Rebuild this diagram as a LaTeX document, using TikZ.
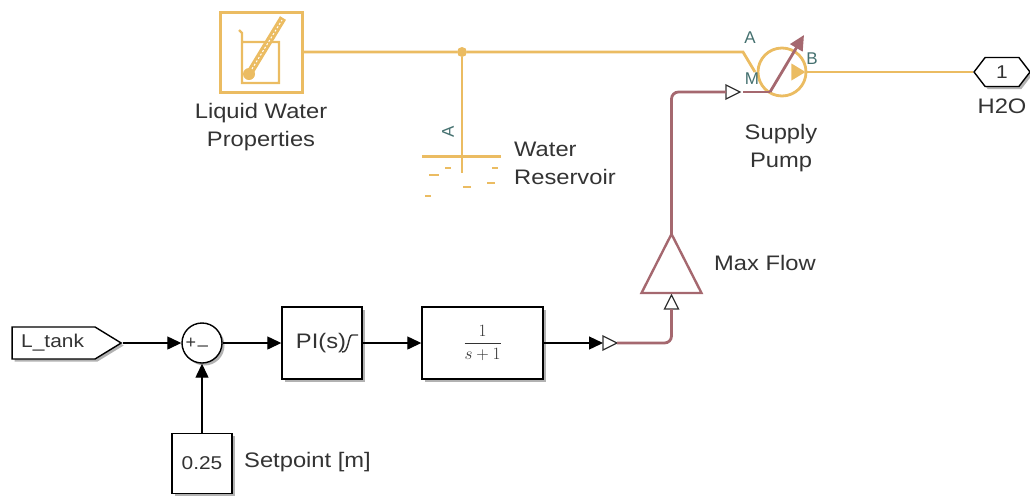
\documentclass[tikz,border=0pt]{standalone}
\usepackage{fontspec}
\setmainfont{Liberation Sans}
\newfontfamily\widefont[FakeStretch=1.13]{Liberation Sans}
\usetikzlibrary{positioning,arrows.meta,calc,shapes.geometric,shapes.symbols,shadows}
\definecolor{watercol}{HTML}{EBBC62}
\definecolor{signalcol}{HTML}{A5686F}
\definecolor{portcol}{HTML}{44706F}
\definecolor{textcol}{HTML}{333333}
\tikzset{
  >={Triangle[length=14pt,width=13pt]},
  softshadow/.style={drop shadow={shadow xshift=2.5pt,shadow yshift=-2.5pt,opacity=.3,fill=black}},
  block/.style={draw=black,fill=white,line width=1.4pt,softshadow,inner sep=0pt,font=\widefont\fontsize{18.5}{20}\selectfont,text=textcol},
  lbl/.style={font=\widefont\fontsize{21}{28}\selectfont,text=textcol,inner sep=0pt},
  portlbl/.style={font=\fontsize{17}{18}\selectfont,text=portcol,inner sep=0pt},
  sigline/.style={->,line width=1.3pt,black},
  water/.style={watercol,line width=2.8pt},
  phys/.style={signalcol,line width=2.8pt},
  portmark/.style={isosceles triangle,isosceles triangle stretches,draw=black!80,fill=white,line width=1.3pt,
    minimum width=14pt,minimum height=14pt,inner sep=0pt,outer sep=0pt},
}
\begin{document}
\begin{tikzpicture}[x=1pt,y=-1pt]
  \useasboundingbox (0,0) rectangle (1030,499);
  % physical network
  \node[draw=watercol,line width=3pt,minimum width=82pt,minimum height=80pt,inner sep=0pt] (props) at (261,52) {};
  \node[lbl,align=center] (propslbl) at (261,127.5) {Liquid Water\\Properties};
  \draw[watercol,line width=2.4pt] (239,30) -- (242,33) -- (242,83) -- (279,83) -- (279,42) -- (242,42);
  \draw[watercol,line width=7pt] (249,74) -- (283,18);
  \fill[watercol] (249,74) circle (6);
  \draw[white,line width=1pt,dash pattern=on 2pt off 2pt] (252,69) -- (282,20);
  \node[circle,fill=watercol,inner sep=0pt,minimum size=10pt] (tee) at (462,52) {};
  \coordinate (res) at (462,173);
  \node[draw=none,inner sep=0pt,minimum width=79pt,minimum height=0pt] (surf) at (461.5,156.5) {};
  \draw[water] (surf.west) -- (surf.east);
  \foreach \dx/\dy/\dw in {448/168/6,434/175/10,495/168/6,467/187/8,491/183/8,428/196/6}
    \draw[watercol,line width=2.6pt] (\dx-\dw/2,\dy) -- (\dx+\dw/2,\dy);
  \node[portlbl,rotate=90] (resA) at (448,132) {A};
  \node[lbl,align=left,anchor=west] (reslbl) at (514,163) {Water\\Reservoir};
  \node[circle,draw=watercol,line width=2.8pt,minimum size=48pt,inner sep=0pt] (pump) at (782,72) {};
  \coordinate (pumpA) at (755,72);
  \coordinate (kink) at (743,52);
  \coordinate (pumpM) at (770,92);
  \coordinate (arrowtip) at (804,35);
  \draw[water] (props) -- (tee) -- (kink) -- (pumpA);
  \draw[water] (tee) -- (res);
  \node[isosceles triangle,isosceles triangle stretches,fill=watercol,minimum width=17pt,minimum height=14pt,inner sep=0pt,anchor=apex] (pumpB) at (806,72) {};
  \node[signal,signal to=east and west,signal pointer angle=105,draw=black,fill=white,line width=1.4pt,softshadow,
    minimum width=56pt,minimum height=29pt,inner sep=0pt,font=\widefont\fontsize{18.5}{20}\selectfont,text=textcol] (outp) at (1002,72) {1};
  \draw[water] (pump.east) -- (outp.west);
  \node[lbl,anchor=center] (outlbl) at (1002,106) {H2O};
  \node[portlbl] (lblA) at (750,38) {A};
  \node[portlbl] (lblM) at (752,79) {M};
  \node[portlbl] (lblB) at (812,59) {B};
  \node[lbl,align=center] (pumplbl) at (781,148.5) {Supply\\Pump};
  % control path
  \node[signal,signal to=east,signal pointer angle=63,block,minimum width=109pt,minimum height=32pt,anchor=east] (ltank) at (122.5,343) {};
  \node[inner sep=0pt,anchor=west,font=\widefont\fontsize{18.5}{20}\selectfont,text=textcol] (ltanktxt) at (21,343) {L\_tank};
  \node[circle,block,minimum size=40pt] (sum) at (202,343) {};
  \node[inner sep=0pt,font=\fontsize{18}{18}\selectfont,text=textcol] (plus) at (191,343) {+};
  \node[inner sep=0pt,font=\fontsize{18}{18}\selectfont,text=textcol] (minus) at (203,345) {\_};
  \node[block,minimum size=60pt] (setpt) at (202,463.5) {0.25};
  \node[lbl,anchor=west] (setlbl) at (244,462) {Setpoint [m]};
  \node[block,minimum width=80pt,minimum height=72pt] (pid) at (322,343) {};
  \node[inner sep=0pt,font=\widefont\fontsize{21}{24}\selectfont,text=textcol] (pidtxt) at (321,343) {PI(s)};
  \draw[black!80,line width=1.4pt] (342,352) .. controls (349,353) and (348,335) .. (352,335) -- (358,335);
  \node[block,minimum width=121pt,minimum height=72pt,font=\fontsize{18}{20}\selectfont] (lag) at (482.5,343) {$\displaystyle\frac{1}{s+1}$};
  \node[portmark,anchor=apex] (gainin) at (617,343) {};
  \node[portmark,shape border rotate=90,anchor=apex] (maxin) at (671.5,295) {};
  \node[isosceles triangle,isosceles triangle stretches,shape border rotate=90,draw=signalcol,line width=2.4pt,
    minimum width=60pt,minimum height=59pt,inner sep=0pt,outer sep=0pt,anchor=apex] (gain) at (671.5,234) {};
  \node[lbl,anchor=west] (gainlbl) at (714,263) {Max Flow};
  \node[portmark,anchor=apex] (pumpin) at (740,92) {};
  \draw[sigline] (ltank.east) -- (sum.west);
  \draw[sigline] (setpt.north) -- (sum.south);
  \draw[sigline] (sum.east) -- (pid.west);
  \draw[sigline] (pid.east) -- (lag.west);
  \draw[sigline] (lag.east) -- (gainin.west);
  \draw[phys,rounded corners=7pt] (gainin.apex) -- (671.5,343) -- (maxin.south);
  \draw[phys,rounded corners=7pt] (gain.apex) -- (671.5,92) -- (pumpin.west);
  \draw[phys] (pumpin.apex) ++(3,0) -- (pumpM);
  \draw[signalcol,line width=2.8pt,-{Triangle[length=15pt,width=14pt]}] (pumpM) -- (arrowtip);
\end{tikzpicture}
\end{document}
